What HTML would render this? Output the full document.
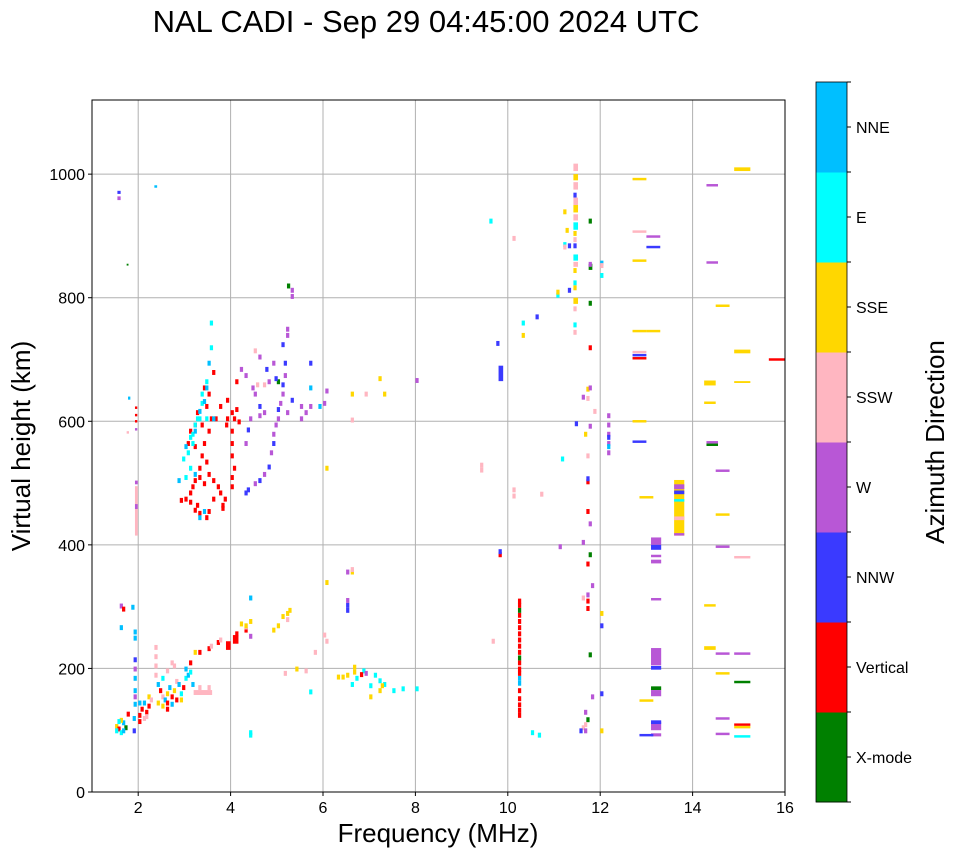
<!DOCTYPE html>
<html><head><meta charset="utf-8"><style>
body{margin:0;background:#fff;font-family:"Liberation Sans",sans-serif}
svg text{font-family:"Liberation Sans",sans-serif}
</style></head><body>
<svg id="chart" width="958" height="857" xmlns="http://www.w3.org/2000/svg">
<text x="426" y="32" font-size="31" text-anchor="middle">NAL CADI - Sep 29 04:45:00 2024 UTC</text>
<g id="grid"></g>
<g id="marks"></g>
<rect x="92" y="100" width="693" height="692" fill="none" stroke="#000" stroke-width="1"/>
<g id="axes"></g>
<text x="438" y="842" font-size="26" text-anchor="middle">Frequency (MHz)</text>
<text transform="translate(30,446) rotate(-90)" font-size="26" text-anchor="middle">Virtual height (km)</text>
<g id="cbar"></g>
<text transform="translate(944,442) rotate(-90)" font-size="26" text-anchor="middle">Azimuth Direction</text>
</svg>
<script>
const dirLabels=["X-mode","Vertical","NNW","W","SSW","SSE","E","NNE"];
const dirColors=["#008000","#ff0000","#3a3aff","#b857d6","#ffb6c1","#ffd700","#00ffff","#00bfff"];
const xTicks=[2,4,6,8,10,12,14,16];
const yTicks=[0,200,400,600,800,1000];
// marks: [freq MHz, height km, direction index, freq span MHz, height span km]
const marks=[
[1.93,415,4,0.06,80],[1.93,498,3,0.06,6],[1.93,458,3,0.06,8],[1.93,620,1,0.05,4],[1.93,608,1,0.05,4],[1.93,598,1,0.05,4],[1.93,585,3,0.05,4],[1.78,635,7,0.05,5],[1.75,580,4,0.05,4],
[1.55,958,3,0.07,6],[1.55,968,2,0.07,5],[2.35,978,7,0.06,4],[1.75,852,0,0.04,3],
[3.0,470,1],[3.1,480,1],[3.15,490,1],[3.2,500,1],[3.3,520,1],[3.35,540,1],[3.4,560,1],[3.5,580,1],[3.55,600,1],[3.45,620,1],[3.5,640,1],[3.25,460,1],[3.3,447,1],[3.1,465,1],[2.9,468,1],[3.2,452,1],[3.6,470,1],[3.7,490,1],[3.75,480,1],[3.8,460,1],[3.9,600,1],[3.88,590,1],[4.0,610,1],[4.05,600,1],[4.0,580,1],[4.0,560,1],[4.0,540,1],[4.05,520,1],[4.0,505,1],[4.0,490,1],[3.5,510,1],[3.6,500,1],[3.45,530,1],[3.2,555,1],[3.35,590,1],[3.65,600,1],[3.75,620,1],[3.9,630,1],[4.1,660,1],[3.4,650,1],[3.6,675,1],[3.25,610,1],[3.1,580,1],[3.05,560,1],[3.45,440,1],[3.5,450,1],[3.85,470,1],[3.3,505,1],[3.4,495,1],[3.8,455,1],[4.1,615,1],[4.15,595,1],[3.2,590,1],
[3.55,755,6],[3.55,715,6],[3.5,690,7],[3.45,660,6],[3.45,650,7],[3.35,640,6],[3.35,625,6],[3.3,612,7],[3.25,600,6],[3.2,590,6],[3.15,575,6],[3.1,570,6],[3.0,555,7],[3.05,545,6],[2.95,535,6],[3.1,520,6],[3.2,510,7],[2.85,500,7],[3.0,505,6],[3.3,440,7],[3.4,450,7],[3.6,600,7],[3.45,600,6],[3.4,628,7],[3.3,600,6],[3.15,560,6],[3.2,580,7],
[4.3,480,2],[4.35,485,2],[4.5,495,3],[4.6,500,2],[4.7,510,3],[4.8,522,2],[4.85,545,3],[4.9,560,2],[4.9,575,3],[4.95,590,3],[5.0,600,3],[5.0,615,2],[5.05,625,3],[5.1,640,3],[5.1,655,2],[5.15,670,3],[5.15,690,2],[5.1,720,2],[5.2,735,3],[5.2,745,3],[5.3,798,3],[5.3,808,3],[4.5,640,3],[4.6,620,2],[4.7,610,3],[4.8,660,3],[4.75,680,2],[4.9,690,3],[4.4,600,3],[4.35,582,2],[4.3,560,3],[4.45,650,3],[5.5,620,3],[5.6,610,3],[5.7,620,3],[5.7,650,7],[5.7,690,2],[5.9,620,7],[6.0,625,3],[6.05,645,3],[4.6,700,3],[4.5,710,4],[4.2,680,3],[4.3,670,3],[4.6,605,3],[5.3,630,2],[5.2,610,3],[5.5,600,3],[4.55,655,4],[4.7,655,4],[5.22,815,0],[5.0,660,0],[4.95,665,2],
[1.5,102,5],[1.55,98,1],[1.6,92,6],[1.65,108,7],[1.5,95,6],[1.6,112,5],[1.7,100,0],[1.55,110,6],[1.65,95,7],[1.88,95,2],[1.88,115,7],[1.75,122,1],
[1.85,295,7],[1.9,255,7],[1.9,245,7],[1.9,210,2],[1.9,195,3],[1.6,262,7],[1.6,297,3],[1.65,292,1],[1.9,180,7],[1.9,160,7],[1.9,138,7],[1.9,150,3],
[2.0,120,1],[2.05,130,1],[2.1,140,7],[2.15,125,1],[2.2,135,1],[2.0,140,7],[2.1,115,4],[2.2,150,5],[2.25,145,4],[2.0,110,1],[2.15,118,4],
[2.4,170,7],[2.45,160,1],[2.5,150,4],[2.55,145,7],[2.6,140,1],[2.5,135,5],[2.6,155,5],[2.65,165,7],[2.7,150,1],[2.75,160,5],[2.8,175,4],[2.85,170,7],[2.9,155,6],[2.95,165,1],[3.0,180,6],[3.05,185,7],[2.5,180,6],[2.6,130,1],[2.7,138,7],[2.4,140,5],[2.8,145,1],[3.1,190,6],[3.0,195,7],[2.35,200,4],[2.35,215,4],[2.35,230,4],[2.35,185,4],[2.7,205,4],[3.15,170,7],[2.9,145,5],
[3.2,157,4,0.4,8],[3.3,165,4],[3.5,165,4],[2.6,192,4],[2.75,200,4],[3.2,222,5],
[3.1,205,1],[3.3,222,1],[3.5,228,1],[3.7,238,1],[3.9,230,1,0.1,14],[4.05,240,1,0.12,14],[4.1,252,1],[4.3,258,1],[3.55,232,4],[3.75,242,4],[4.3,263,4],[4.4,248,3],
[4.2,268,5],[4.3,265,5],[4.9,258,5],[5.0,265,5],[5.1,280,5],[5.2,285,5],[5.25,290,5],[4.4,272,5],[4.4,310,7],[5.2,275,4],
[6.05,335,5],[6.0,250,4],[6.05,240,4],[6.5,352,3],[6.5,298,2],[6.5,306,3],[6.5,290,2],[6.6,352,5],[6.6,356,4],[5.8,222,4],
[6.4,182,5],[6.5,185,5],[6.6,170,6],[6.65,190,5],[6.7,180,6],[6.85,192,6],[7.0,168,6],[7.1,185,6],[7.2,176,6],[7.3,170,6],[7.2,160,5],[7.0,150,5],[7.5,160,6],[7.7,163,6],[8.0,163,6],[6.9,188,3],[6.8,186,1],[5.4,195,5],[5.6,192,4],[5.15,188,4],[5.7,158,6],[4.4,92,6],[4.4,88,6],[6.65,198,5],[7.25,168,5],[6.3,182,5],
[6.6,598,4],[6.6,640,5],[7.2,665,5],[7.3,640,5],[8.0,662,3],[6.9,640,4],[6.05,520,5],
[10.22,120,1],[10.22,128,1],[10.22,137,1],[10.22,147,1],[10.22,160,1],[10.22,172,7],[10.22,180,7],[10.22,188,1],[10.22,195,1],[10.22,205,1],[10.22,213,0],[10.22,222,1],[10.22,232,1],[10.22,242,1],[10.22,252,1],[10.22,262,1],[10.22,272,1],[10.22,282,1],[10.22,290,0],[10.22,298,1],[10.22,305,1],
[9.8,665,2,0.1,25],[9.75,722,2],[9.6,920,6],[9.4,525,4],[9.4,517,4],[10.1,892,4],[10.3,755,6],[10.3,735,5],[10.6,765,2],[10.1,485,4],[10.1,475,4],[10.7,478,4],[9.8,380,1],[9.8,385,2],[9.65,240,4],[10.5,92,6],[10.65,88,6],
[11.42,1005,4,0.1,12],[11.42,990,5,0.1,10],[11.42,975,4,0.1,12],[11.42,962,2],[11.42,950,4,0.1,12],[11.42,938,5,0.1,12],[11.42,925,4,0.1,10],[11.42,910,6,0.1,12],[11.42,900,5],[11.42,890,4],[11.42,880,2],[11.42,860,6,0.1,10],[11.42,850,4,0.1,8],[11.42,840,5],[11.42,820,6],[11.42,812,5],[11.42,790,5,0.1,10],[11.42,778,4],[11.42,752,6],[11.42,740,4],
[11.2,935,5],[11.25,905,5],[11.2,882,6],[11.2,878,4],[11.3,880,2],[11.05,800,6],[11.05,805,5],[11.3,808,2],[11.75,920,0],[11.75,845,0,0.08,10],[11.75,787,0],[11.75,850,3],[12.0,852,7],[12.0,832,6],[12.0,848,4],
[11.75,715,1],[11.7,498,1],[11.7,503,2],[11.7,450,1],[11.7,365,1],[11.7,305,1],[11.7,293,1],[11.75,380,0],[11.75,218,0],[11.7,113,0],[11.75,588,3],[11.6,400,3],[11.7,315,3],[11.7,540,4],[11.65,105,4],[11.7,648,5],[11.75,650,3],[11.7,633,4],[11.45,592,2],[11.6,635,3],[11.85,612,4],[11.75,430,3],[11.8,330,3],[11.65,125,3],[11.6,100,4],[11.65,95,3],[11.55,95,2],[11.65,575,5],[11.15,535,6],[11.1,393,3],[11.6,310,4],
[12.15,605,3],[12.15,590,3],[12.15,575,3],[12.15,560,3],[12.15,545,3],[12.15,570,2],[12.15,555,7],[12.0,285,5],[12.0,265,2],[12.0,155,2],[12.0,95,5],[11.8,150,3],
[12.7,990,5,0.3,4],[12.7,858,5,0.3,4],[12.7,744,5,0.3,4],[12.7,598,5,0.3,4],[12.85,475,5,0.3,4],[12.85,146,5,0.3,4],[12.7,905,4,0.3,4],[12.7,705,2,0.3,4],[12.7,700,1,0.3,4],[12.7,565,2,0.3,4],[13.0,897,3,0.3,4],[13.0,880,2,0.3,4],[13.0,744,5,0.3,4],[12.7,710,4,0.3,4],
[13.1,400,3,0.22,12],[13.1,392,2,0.22,8],[13.1,370,3,0.22,6],[13.1,380,3,0.22,4],[13.1,310,3,0.22,4],[13.1,205,3,0.22,28],[13.1,198,2,0.22,6],[13.1,165,0,0.22,6],[13.1,155,3,0.22,10],[13.1,100,3,0.22,14],[13.1,110,2,0.22,6],[13.1,90,3,0.22,5],[12.85,90,2,0.3,4],
[13.6,415,5,0.22,90],[13.6,490,3,0.22,8],[13.6,482,2,0.22,6],[13.6,470,6,0.22,4],[13.6,440,4,0.22,6],[13.6,415,3,0.22,4],
[14.3,980,3,0.25,4],[14.3,855,3,0.25,4],[14.25,658,5,0.25,8],[14.25,628,5,0.25,4],[14.3,560,0,0.25,4],[14.3,564,3,0.25,4],[14.25,300,5,0.25,4],[14.25,230,5,0.25,6],[14.5,190,5,0.3,4],[14.5,117,3,0.3,4],[14.5,92,3,0.3,4],
[14.5,518,3,0.3,4],[14.5,395,3,0.3,4],[14.5,447,5,0.3,4],[14.5,785,5,0.3,4],[14.5,222,3,0.3,4],
[14.9,1005,5,0.35,6],[14.9,710,5,0.35,6],[14.9,662,5,0.35,3],[14.9,378,4,0.35,4],[14.9,222,3,0.35,4],[14.9,176,0,0.35,4],[14.9,107,1,0.35,4],[14.9,103,5,0.35,4],[14.9,88,6,0.35,4],
[15.65,698,1,0.35,4]
];
const NS="http://www.w3.org/2000/svg";
const L=92,R=785,T=100,B=792;
const xs=f=>L+(f-1)/(16-1)*(R-L);
const ys=h=>B-h/1120*(B-T);
const grid=document.getElementById('grid'),axes=document.getElementById('axes'),mg=document.getElementById('marks'),cb=document.getElementById('cbar');
function mk(tag,attrs,parent){const e=document.createElementNS(NS,tag);for(const k in attrs)e.setAttribute(k,attrs[k]);parent.appendChild(e);return e;}
xTicks.forEach(t=>{
 const x=xs(t);
 if(t<16){const g=mk('line',{x1:x,x2:x,y1:T,y2:B,stroke:'#b0b0b0','stroke-width':1},grid);
 
 }
 mk('line',{x1:x,x2:x,y1:B,y2:B+4,stroke:'#000'},axes);
 const tx=mk('text',{x:x,y:B+21,'font-size':16,'text-anchor':'middle'},axes);tx.textContent=t;
 
 
});
yTicks.forEach(t=>{
 const y=ys(t);
 if(t>0){const g=mk('line',{x1:L,x2:R,y1:y,y2:y,stroke:'#b0b0b0','stroke-width':1},grid);
 
 }
 mk('line',{x1:L-4,x2:L,y1:y,y2:y,stroke:'#000'},axes);
 const tx=mk('text',{x:L-7,y:y+6,'font-size':16,'text-anchor':'end'},axes);tx.textContent=t;
 
 
});
marks.forEach(m=>{
 const f=m[0],h=m[1],d=m[2],df=m[3]||0.07,dh=m[4]||8;
 const x0=xs(f),x1=xs(f+df),y0=ys(h+dh),y1=ys(h);
 const r=mk('rect',{x:x0,y:y0,width:Math.max(1,x1-x0),height:Math.max(1,y1-y0),fill:dirColors[d]},mg);
 
 
});
const cT=82,cB=802,cL=816,cW=31,seg=(cB-cT)/dirLabels.length;
dirLabels.forEach((lab,i)=>{
 const y=cB-(i+1)*seg;
 const r=mk('rect',{x:cL,y:y,width:cW,height:seg+0.5,fill:dirColors[i]},cb);
 
 
 const cy=y+seg/2;
 mk('line',{x1:cL+cW,x2:cL+cW+4,y1:cy,y2:cy,stroke:'#000'},cb);
 const tx=mk('text',{x:cL+cW+9,y:cy+6,'font-size':16},cb);tx.textContent=lab;
 
 
});
for(let i=0;i<=dirLabels.length;i++){const y=cT+i*seg;mk('line',{x1:cL+cW,x2:cL+cW+4,y1:y,y2:y,stroke:'#000'},cb);}
mk('rect',{x:cL,y:cT,width:cW,height:cB-cT,fill:'none',stroke:'#000','stroke-width':0.8},cb);
</script>
</body></html>
